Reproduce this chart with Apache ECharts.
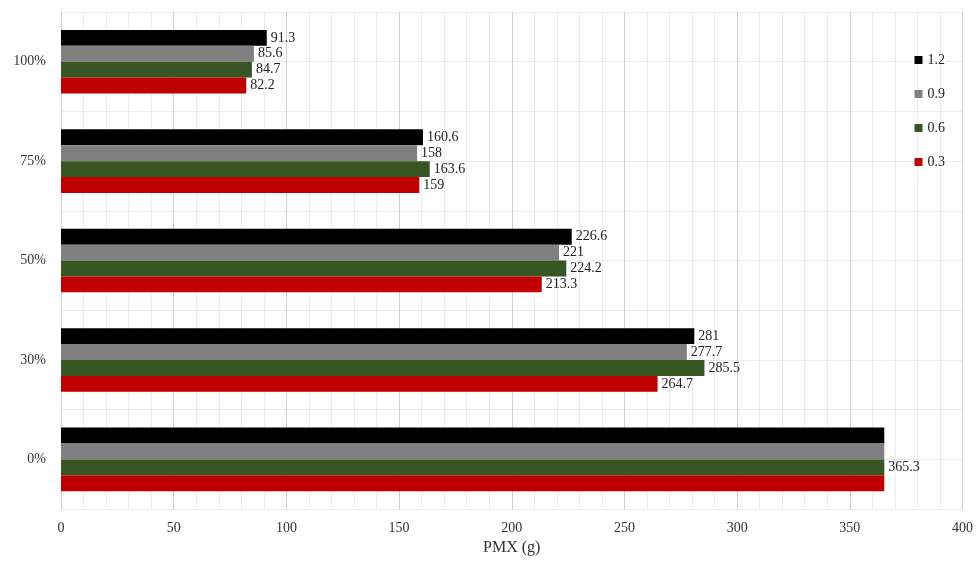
<!DOCTYPE html>
<html><head><meta charset="utf-8">
<script src="https://cdn.jsdelivr.net/npm/echarts@6/dist/echarts.min.js"></script>
<style>html,body{margin:0;padding:0;background:#fff}#c{width:976px;height:561px}</style>
</head><body><div id="c"></div>
<script>
const categories = ['0%','30%','50%','75%','100%'];
const s03 = [365.3, 264.7, 213.3, 159, 82.2];
const s06 = [365.3, 285.5, 224.2, 163.6, 84.7];
const s09 = [365.3, 277.7, 221, 158, 85.6];
const s12 = [365.3, 281, 226.6, 160.6, 91.3];
const colors = ['#c00000','#375623','#808080','#000000'];
const font = 'Liberation Serif';
const chart = echarts.init(document.getElementById('c'));
function mk(name, data, color, hideZero){
  return {name, type:'bar', data, barGap:'0%', barCategoryGap:'36%', itemStyle:{color},
    label:{show:true, position:'right', distance:4, color:'#222', fontFamily:font, fontSize:14,
      formatter: p => (hideZero && p.dataIndex===0) ? '' : String(p.value)}};
}
chart.setOption({
  animation:false,
  textStyle:{fontFamily:font},
  grid:{left:61, right:13, top:12, bottom:51},
  legend:{orient:'vertical', right:26, top:48, itemGap:20, itemWidth:8, itemHeight:8, icon:'rect',
    data:['1.2','0.9','0.6','0.3'], textStyle:{fontFamily:font, fontSize:14, color:'#222'}},
  xAxis:{type:'value', min:0, max:400, interval:50, name:'PMX (g)', nameLocation:'middle', nameGap:30,
    nameTextStyle:{fontFamily:font, fontSize:16, color:'#333'},
    axisLabel:{fontFamily:font, fontSize:14, color:'#333', margin:12},
    axisLine:{show:false}, axisTick:{show:false},
    splitLine:{lineStyle:{color:'#d0d0d0'}},
    minorTick:{show:false, splitNumber:5}, minorSplitLine:{show:true, lineStyle:{color:'#ebebeb'}}},
  yAxis:[{type:'category', data:categories, axisTick:{show:false}, axisLine:{show:false},
    axisLabel:{fontFamily:font, fontSize:14, color:'#333', margin:15},
    splitLine:{show:true, lineStyle:{color:'#d0d0d0'}}},
   {type:'value', min:0, max:10, interval:1, show:true, position:'right', axisLabel:{show:false},
    axisLine:{show:false}, axisTick:{show:false}, splitLine:{show:true, lineStyle:{color:'#ebebeb'}}}],
  series:[mk('1.2',s12,colors[3],true), mk('0.9',s09,colors[2],true), mk('0.6',s06,colors[1],false), mk('0.3',s03,colors[0],true)]
});
</script></body></html>
